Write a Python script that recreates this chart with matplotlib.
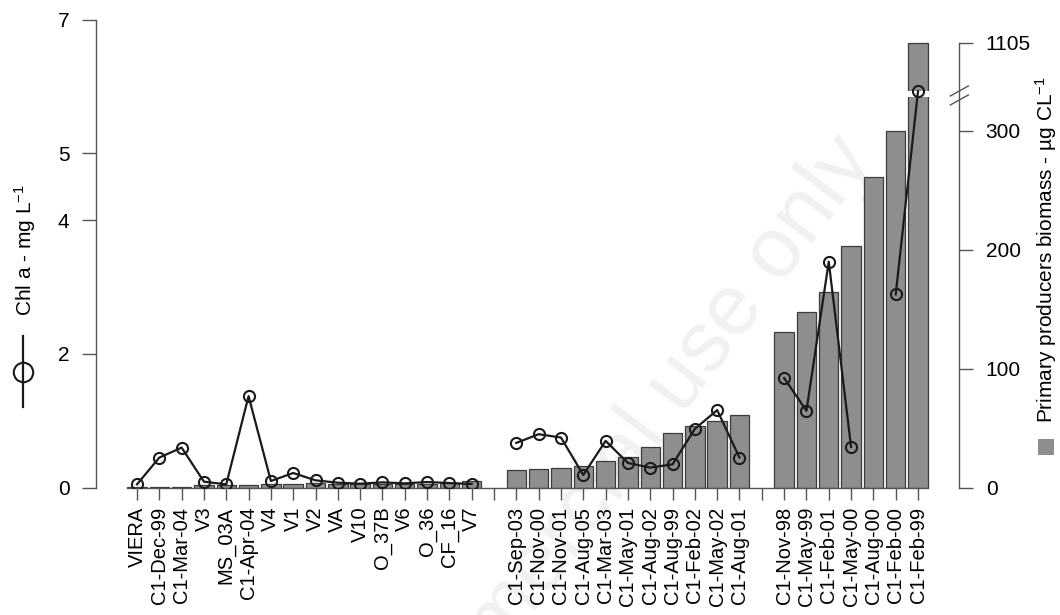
import numpy as np
import matplotlib
matplotlib.use("Agg")
import matplotlib.pyplot as plt
from matplotlib.lines import Line2D
from matplotlib.patches import Rectangle

plt.rcParams['font.family'] = ['Liberation Sans', 'DejaVu Sans']
plt.rcParams['mathtext.fontset'] = 'custom'
plt.rcParams['mathtext.rm'] = 'Liberation Sans'
plt.rcParams['mathtext.it'] = 'Liberation Sans:italic'
plt.rcParams['mathtext.default'] = 'rm'

# sites grouped as in the survey, chlorophyll (mg/L) and biomass (ug C/L)
group1_sites = ['VIERA', 'C1-Dec-99', 'C1-Mar-04', 'V3', 'MS_03A', 'C1-Apr-04', 'V4', 'V1',
                'V2', 'VA', 'V10', 'O_37B', 'V6', 'O_36', 'CF_16', 'V7']
group1_biomass = [0.5, 1, 1, 2.5, 2.5, 2.5, 3.5, 3.5, 4, 3, 3, 3.5, 3.5, 3.5, 4, 6]
group1_chla = [0.05, 0.45, 0.60, 0.09, 0.05, 1.37, 0.10, 0.22, 0.11, 0.075, 0.06, 0.08,
               0.065, 0.085, 0.07, 0.055]

group2_sites = ['C1-Sep-03', 'C1-Nov-00', 'C1-Nov-01', 'C1-Aug-05', 'C1-Mar-03', 'C1-May-01',
                'C1-Aug-02', 'C1-Aug-99', 'C1-Feb-02', 'C1-May-02', 'C1-Aug-01']
group2_biomass = [14.9, 15.7, 16.8, 18.5, 22.2, 26, 34.5, 46.2, 52.1, 56.3, 61.3]
group2_chla = [0.67, 0.80, 0.75, 0.19, 0.70, 0.37, 0.30, 0.35, 0.88, 1.16, 0.45]

group3_sites = ['C1-Nov-98', 'C1-May-99', 'C1-Feb-01', 'C1-May-00', 'C1-Aug-00', 'C1-Feb-00',
                'C1-Feb-99']
group3_biomass = [131, 148, 164.5, 203.5, 261, 300, 1105]
group3_chla = [1.64, 1.15, 3.38, 0.61, np.nan, 2.89, 5.93]

chla_ticks = [0, 2, 4, 5, 7]
biomass_ticks = [0, 100, 200, 300, 1105]

# one empty slot between groups
groups = [(group1_sites, group1_biomass, group1_chla),
          (group2_sites, group2_biomass, group2_chla),
          (group3_sites, group3_biomass, group3_chla)]
labels, bio, chla, xpos = [], [], [], []
x = 0
for gi, (s, b, c) in enumerate(groups):
    for i in range(len(s)):
        labels.append(s[i]); bio.append(b[i]); chla.append(c[i]); xpos.append(x)
        x += 1
    if gi < len(groups) - 1:
        labels.append(''); bio.append(np.nan); chla.append(np.nan); xpos.append(x)
        x += 1
xpos = np.array(xpos)
bio = np.array(bio)
chla = np.array(chla)

# broken biomass scale: 328..1064 squeezed into a small gap
brk_v = [0, 328, 1064, 1105, 3000]
brk_t = [0, 328, 333, 374, 374 + 1895]
fwd = lambda v: np.interp(v, brk_v, brk_t)
inv = lambda t: np.interp(t, brk_t, brk_v)

FS = 15
XFS = 14.5
W, H = 1060, 615
fig = plt.figure(figsize=(W / 100, H / 100), dpi=100)
left_px, right_px, bot_px, top_px = 96, 959.3, 487.7, 19.6
ax = fig.add_axes([left_px / W, 1 - bot_px / H, (right_px - left_px) / W, (bot_px - top_px) / H])
ax.patch.set_alpha(0)
ax2 = ax.twinx()
ax2.patch.set_alpha(0)

# faint diagonal stamp behind the plot
fig.text(875 / W, 1 - 160 / H, 'For non-commercial use only', fontsize=62, color='#f1f1f1',
         rotation=53, rotation_mode='anchor', ha='right', va='baseline', zorder=-5)

gray = '#8e8e8e'
edge = '#3c3c3c'
axcol = '#555555'

ax.set_yscale('function', functions=(fwd, inv))
ax.set_xlim(-1.837, 36.85)
ax.set_ylim(0, inv(468.1 / 1.19))
m = ~np.isnan(bio)
ax.bar(xpos[m], bio[m], width=0.87, color=gray, edgecolor=edge, linewidth=0.9, zorder=2)

# white gap across the tall bar at the break
last = xpos[m][-1]
ax.fill_between([last - 0.5, last + 0.5], 328, 1064, color='white', zorder=3, lw=0)

ax.set_xticks(xpos)
ax.set_xticklabels(labels, rotation=90, fontsize=XFS)
ax.yaxis.tick_right()
ax.set_yticks(biomass_ticks)
ax.set_yticklabels([str(t) for t in biomass_ticks], fontsize=FS)
ax.tick_params(axis='x', direction='out', length=8.9, width=1, color=axcol, pad=4.8)
ax.tick_params(axis='y', direction='out', length=10, width=1, color=axcol, pad=9)
for side in ['left', 'top']:
    ax.spines[side].set_visible(False)
ax.spines['right'].set_bounds(0, 1105)
ax.spines['bottom'].set_bounds(-0.44, xpos[-1] + 0.44)
for side in ['right', 'bottom']:
    ax.spines[side].set_color(axcol)
    ax.spines[side].set_linewidth(1)

# break marks on the right spine
axw = right_px - left_px
axh = bot_px - top_px
yc = (bot_px - 95.5) / axh
for dy in (-4.5, 4.5):
    ax.plot([1 - 9 / axw, 1 + 9 / axw], [yc + (dy - 5) / axh, yc + (dy + 5) / axh],
            transform=ax.transAxes, color=axcol, lw=1, clip_on=False, zorder=5)

# chlorophyll line on the left scale
ax2.set_ylim(0, 7)
ax2.plot(xpos, chla, color='#1a1a1a', lw=1.6, marker='o', ms=8, mfc='none', mew=1.5, zorder=4)
ax2.yaxis.tick_left()
ax2.set_yticks(chla_ticks)
ax2.set_yticklabels([str(t) for t in chla_ticks], fontsize=FS)
ax2.tick_params(axis='y', direction='out', length=10, width=1, color=axcol, pad=9)
for side in ['right', 'top', 'bottom']:
    ax2.spines[side].set_visible(False)
ax2.spines['left'].set_bounds(0, 7)
ax2.spines['left'].set_color(axcol)
ax2.spines['left'].set_linewidth(1)

# axis titles with their own key symbols
fig.text(25.5 / W, 1 - 250.5 / H, r'Chl a - mg L$^{-1}$', rotation=90, ha='center', va='center',
         fontsize=FS)
fig.add_artist(Line2D([22.7 / W, 22.7 / W], [1 - 335.7 / H, 1 - 406.7 / H],
                      transform=fig.transFigure, color='#1a1a1a', lw=1.6))
fig.add_artist(Line2D([22.7 / W], [1 - 371.7 / H], transform=fig.transFigure, marker='o',
                      ms=14, mfc='none', mec='#1a1a1a', mew=1.5, lw=0))

fig.text(1046 / W, 1 - 249.5 / H, r'Primary producers biomass - µg CL$^{-1}$', rotation=90,
         ha='center', va='center', fontsize=FS)
sq = 16.5
fig.add_artist(Rectangle(((1046 - sq / 2) / W, 1 - (447 + sq / 2) / H), sq / W, sq / H,
                         transform=fig.transFigure, facecolor=gray, edgecolor='none'))

fig.savefig('out.png', dpi=100)
